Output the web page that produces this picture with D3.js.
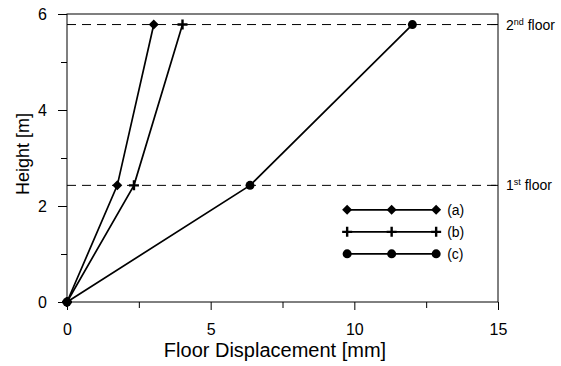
<!DOCTYPE html>
<html>
<head>
<meta charset="utf-8">
<script src="https://cdn.jsdelivr.net/npm/d3@7"></script>
<style>
  body { margin: 0; background: #fff; }
  text { font-family: "Liberation Sans", Arial, sans-serif; fill: #000; }
</style>
</head>
<body>
<div id="chart"></div>
<script>
// data
const floorHeights = [0, 2.43, 5.78];
const seriesNames = ['(a)', '(b)', '(c)'];
const dispA = [0, 1.75, 3.02];
const dispB = [0, 2.33, 4.02];
const dispC = [0, 6.37, 12.02];
const floorLabels = [['1', 'st', ' floor'], ['2', 'nd', ' floor']];
const xTicks = [0, 5, 10, 15];
const xMinor = [2.5, 7.5, 12.5];
const yTicks = [0, 2, 4, 6];
const yMinor = [1, 3, 5];

const W = 561, H = 366;
const margin = { top: 14, right: 63, bottom: 64, left: 67 };
const width = W - margin.left - margin.right;
const height = H - margin.top - margin.bottom;

const svg = d3.select('#chart').append('svg')
  .attr('width', W).attr('height', H);

const g = svg.append('g')
  .attr('transform', `translate(${margin.left},${margin.top})`);

const x = d3.scaleLinear().domain([0, 15]).range([0, width]);
const y = d3.scaleLinear().domain([0, 6]).range([height, 0]);

// frame
g.append('rect')
  .attr('width', width).attr('height', height)
  .attr('fill', 'none').attr('stroke', '#000').attr('stroke-width', 1);

// floor lines
g.selectAll('.floor')
  .data(floorHeights.slice(1))
  .enter().append('line')
  .attr('x1', 0).attr('x2', width)
  .attr('y1', d => y(d)).attr('y2', d => y(d))
  .attr('stroke', '#000').attr('stroke-dasharray', '9,6');

g.selectAll('.floor-tick')
  .data(floorHeights.slice(1))
  .enter().append('line')
  .attr('x1', width - 7).attr('x2', width)
  .attr('y1', d => y(d)).attr('y2', d => y(d))
  .attr('stroke', '#000');

const fl = g.selectAll('.floor-label')
  .data(floorHeights.slice(1))
  .enter().append('text')
  .attr('x', width + 8).attr('y', d => y(d) + 5)
  .style('font-size', '14px');
fl.each(function (d, i) {
  const t = d3.select(this);
  t.append('tspan').text(floorLabels[i][0]);
  t.append('tspan').attr('dy', -5).style('font-size', '9px').text(floorLabels[i][1]);
  t.append('tspan').attr('dy', 5).text(floorLabels[i][2]);
});

// axes
const fmt = d3.format('d');
const axes = [
  g.append('g').attr('transform', `translate(0,${height})`)
    .call(d3.axisBottom(x).tickValues(xTicks).tickFormat(fmt).tickSize(8).tickPadding(14)),
  g.append('g').attr('transform', `translate(0,${height})`)
    .call(d3.axisBottom(x).tickValues(xMinor).tickSize(6).tickFormat('')),
  g.append('g')
    .call(d3.axisLeft(y).tickValues(yTicks).tickFormat(fmt).tickSize(9).tickPadding(11)),
  g.append('g')
    .call(d3.axisLeft(y).tickValues(yMinor).tickSize(6).tickFormat(''))
];
axes.forEach(a => {
  a.select('.domain').remove();
  a.selectAll('text').style('font-size', '16px').attr('fill', '#000');
  a.selectAll('line').attr('stroke', '#000');
});

svg.append('text')
  .attr('x', 275).attr('y', H - 9)
  .attr('text-anchor', 'middle').style('font-size', '20px')
  .text('Floor Displacement [mm]');
svg.append('text')
  .attr('transform', `translate(29,154) rotate(-90)`)
  .attr('text-anchor', 'middle').style('font-size', '18px')
  .text('Height [m]');

// series
const series = [dispA, dispB, dispC].map((v, i) => ({
  name: seriesNames[i],
  pts: v.map((d, j) => [d, floorHeights[j]])
}));

const line = d3.line().x(d => x(d[0])).y(d => y(d[1]));

g.selectAll('.series')
  .data(series)
  .enter().append('path')
  .attr('d', d => line(d.pts))
  .attr('fill', 'none').attr('stroke', '#000').attr('stroke-width', 1.7);

function marker(sel, i) {
  if (i === 0) {
    sel.append('path').attr('d', 'M0,-5L5,0L0,5L-5,0Z').attr('fill', '#000');
  } else if (i === 1) {
    sel.append('path').attr('d', 'M-5,0H5M0,-5V5')
      .attr('stroke', '#000').attr('stroke-width', 2.4).attr('fill', 'none');
  } else {
    sel.append('circle').attr('r', 4.5).attr('fill', '#000');
  }
}

series.forEach((s, i) => {
  s.pts.forEach(p => {
    const m = g.append('g').attr('transform', `translate(${x(p[0])},${y(p[1])})`);
    marker(m, i);
  });
});

// legend
const legend = g.append('g').attr('transform', `translate(${x(9.75)},${y(1.92)})`);
series.forEach((s, i) => {
  const row = legend.append('g').attr('transform', `translate(0,${i * 22})`);
  row.append('line').attr('x1', 0).attr('x2', 89)
    .attr('stroke', '#000').attr('stroke-width', 1.7);
  [0, 44.5, 89].forEach(px => {
    marker(row.append('g').attr('transform', `translate(${px},0)`), i);
  });
  row.append('text').attr('x', 100).attr('y', 5)
    .style('font-size', '14px').text(s.name);
});
</script>
</body>
</html>
